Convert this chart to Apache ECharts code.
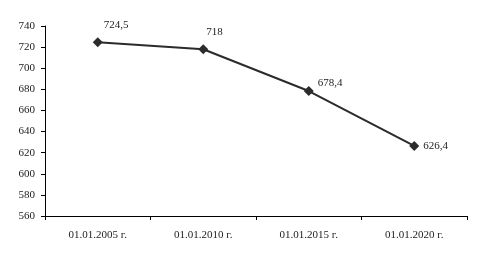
<!DOCTYPE html>
<html><head><meta charset="utf-8">
<script src="https://cdn.jsdelivr.net/npm/echarts@6/dist/echarts.min.js"></script>
<style>html,body{margin:0;padding:0;background:#fff}#c{width:483px;height:262px}</style>
</head><body><div id="c"></div>
<script>
const categories = ['01.01.2005 г.', '01.01.2010 г.', '01.01.2015 г.', '01.01.2020 г.'];
const values = [724.5, 718, 678.4, 626.4];
const valueLabels = ['724,5', '718', '678,4', '626,4'];
const labelOffsets = [[6, -17], [3, -17], [9, -8], [9, 0]];

const chart = echarts.init(document.getElementById('c'));
const font = '"Liberation Serif", "Times New Roman", serif';
chart.setOption({
  animation: false,
  grid: { left: 45, right: 16, top: 26, bottom: 46 },
  xAxis: {
    type: 'category', data: categories, boundaryGap: true,
    axisLine: { lineStyle: { color: '#000', width: 1 } },
    axisTick: { show: true, length: 4, alignWithLabel: false, lineStyle: { color: '#000' } },
    axisLabel: { color: '#222', fontFamily: font, fontSize: 11, margin: 14 }
  },
  yAxis: {
    type: 'value', min: 560, max: 740, interval: 20,
    axisLine: { show: true, lineStyle: { color: '#000', width: 1 } },
    axisTick: { show: true, length: 4, lineStyle: { color: '#000' } },
    axisLabel: { color: '#222', fontFamily: font, fontSize: 11, margin: 10 },
    splitLine: { show: false }
  },
  series: [{
    type: 'line', data: values.map((v, i) => ({
      value: v,
      label: { show: true, position: 'inside', offset: labelOffsets[i], align: 'left',
        verticalAlign: 'middle',
        formatter: valueLabels[i], color: '#222', fontFamily: font, fontSize: 11 }
    })),
    symbol: 'diamond', symbolSize: 10,
    lineStyle: { color: '#2b2b2b', width: 2 },
    itemStyle: { color: '#2b2b2b' }
  }]
});
</script></body></html>
